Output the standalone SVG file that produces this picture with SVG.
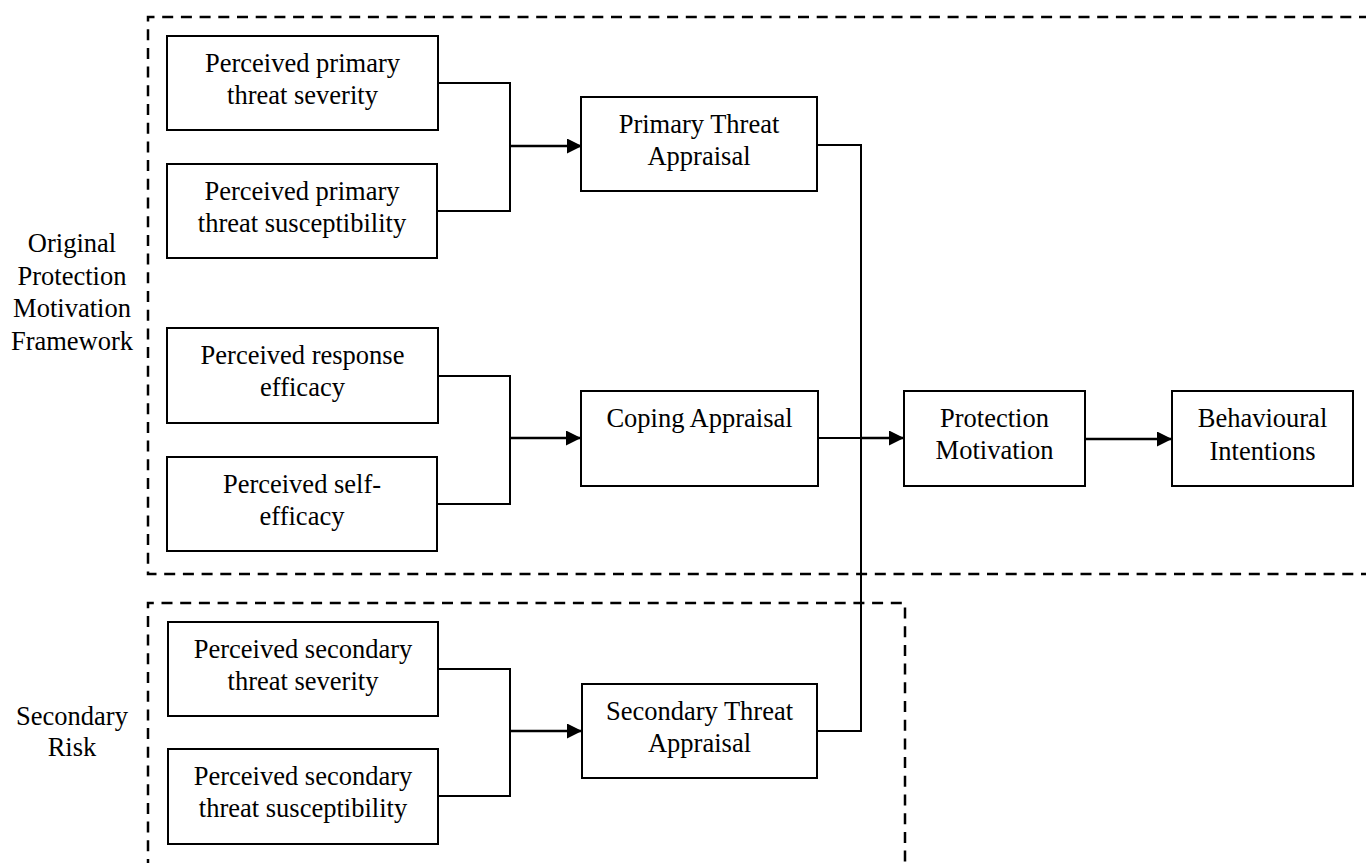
<svg xmlns="http://www.w3.org/2000/svg" width="1366" height="863" viewBox="0 0 1366 863">
<defs>
<marker id="arr" markerUnits="userSpaceOnUse" markerWidth="16" markerHeight="16" refX="15" refY="7.5" orient="auto">
<path d="M0,0 L15,7.5 L0,15 z" fill="#000"/>
</marker>
<style>
.box{fill:#fff;stroke:#000;stroke-width:2}
.t{font-family:"Liberation Serif","Times New Roman",serif;font-size:26.5px;fill:#000;text-anchor:middle}
.dash{fill:none;stroke:#000;stroke-width:2.5;stroke-dasharray:11 7.7}
.c{fill:none;stroke:#000;stroke-width:2}
.a{fill:none;stroke:#000;stroke-width:2.5;marker-end:url(#arr)}
</style>
</defs>
<rect width="1366" height="863" fill="#fff"/>
<g id="frames">
<path class="dash" d="M1370 17 H148 V574 H1370"/>
<path class="dash" d="M148 870 V603 H905 V870"/>
</g>
<g id="labels">
<text class="t" x="72" y="252">Original</text>
<text class="t" x="72" y="284.5">Protection</text>
<text class="t" x="72" y="317">Motivation</text>
<text class="t" x="72" y="350">Framework</text>
<text class="t" x="72" y="725">Secondary</text>
<text class="t" x="72" y="756">Risk</text>
</g>
<g id="connectors">
<path class="c" d="M438 83 H510 V211 H437"/>
<path class="a" d="M510 146 H582"/>
<path class="c" d="M438 376 H510 V504 H438"/>
<path class="a" d="M510 438 H581"/>
<path class="c" d="M438 669 H510 V796 H438"/>
<path class="a" d="M510 731 H582"/>
<path class="c" d="M817 145 H861 V731 H817"/>
<path class="c" d="M818 438 H861"/>
<path class="a" d="M861 438 H904"/>
<path class="a" d="M1085 439 H1172"/>
</g>
<g id="n-sev1">
<rect class="box" x="167" y="36" width="271" height="94"/>
<text class="t" x="302.5" y="72">Perceived primary</text>
<text class="t" x="302.5" y="104">threat severity</text>
</g>
<g id="n-sus1">
<rect class="box" x="167" y="164" width="270" height="94"/>
<text class="t" x="302" y="200">Perceived primary</text>
<text class="t" x="302" y="232">threat susceptibility</text>
</g>
<g id="n-pta">
<rect class="box" x="581" y="97" width="236" height="94"/>
<text class="t" x="699" y="133">Primary Threat</text>
<text class="t" x="699" y="165">Appraisal</text>
</g>
<g id="n-resp">
<rect class="box" x="167" y="328" width="271" height="95"/>
<text class="t" x="302.5" y="364">Perceived response</text>
<text class="t" x="302.5" y="396">efficacy</text>
</g>
<g id="n-self">
<rect class="box" x="167" y="457" width="270" height="94"/>
<text class="t" x="302" y="493">Perceived self-</text>
<text class="t" x="302" y="525">efficacy</text>
</g>
<g id="n-cope">
<rect class="box" x="581" y="391" width="237" height="95"/>
<text class="t" x="699.5" y="427">Coping Appraisal</text>
</g>
<g id="n-pm">
<rect class="box" x="904" y="391" width="181" height="95"/>
<text class="t" x="994.5" y="427">Protection</text>
<text class="t" x="994.5" y="459">Motivation</text>
</g>
<g id="n-bi">
<rect class="box" x="1172" y="391" width="181" height="95"/>
<text class="t" x="1262.5" y="427">Behavioural</text>
<text class="t" x="1262.5" y="460">Intentions</text>
</g>
<g id="n-sev2">
<rect class="box" x="168" y="622" width="270" height="94"/>
<text class="t" x="303" y="658">Perceived secondary</text>
<text class="t" x="303" y="690">threat severity</text>
</g>
<g id="n-sus2">
<rect class="box" x="168" y="749" width="270" height="95"/>
<text class="t" x="303" y="785">Perceived secondary</text>
<text class="t" x="303" y="817">threat susceptibility</text>
</g>
<g id="n-sta">
<rect class="box" x="582" y="684" width="235" height="94"/>
<text class="t" x="699.5" y="720">Secondary Threat</text>
<text class="t" x="699.5" y="752">Appraisal</text>
</g>
</svg>
